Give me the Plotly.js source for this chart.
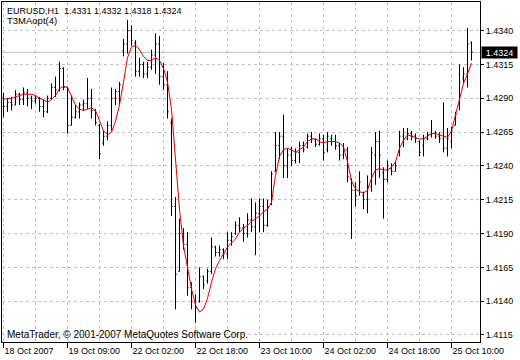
<!DOCTYPE html>
<html>
<head>
<meta charset="utf-8">
<script src="https://cdn.plot.ly/plotly-3.0.1.min.js"></script>
<style>html,body{margin:0;padding:0;background:#fff;}#chart{width:520px;height:360px;}</style>
</head>
<body>
<div id="chart"></div>
<script>
const symbol = "EURUSD,H1";
const indicatorName = "T3MAopt(4)";
const copyright = "MetaTrader, \u00a9 2001-2007 MetaQuotes Software Corp.";

const barIndex = Array.from({length: 118}, (_, i) => i);

const opens = [1.4290,1.4284,1.4287,1.4285,1.4293,1.4289,1.4294,1.4290,1.4288,1.4290,
 1.4284,1.4280,1.4290,1.4298,1.4296,1.4312,1.4298,1.4270,1.4276,1.4280,
 1.4285,1.4286,1.4290,1.4281,1.4270,1.4257,1.4262,1.4270,1.4290,1.4295,
 1.4325,1.4330,1.4340,1.4331,1.4310,1.4315,1.4308,1.4313,1.4322,1.4330,
 1.4306,1.4300,1.4272,1.4210,1.4162,1.4190,1.4182,1.4150,1.4140,1.4140,
 1.4158,1.4155,1.4162,1.4180,1.4176,1.4178,1.4175,1.4185,1.4190,1.4196,
 1.4194,1.4190,1.4200,1.4195,1.4205,1.4210,1.4196,1.4212,1.4236,1.4255,
 1.4262,1.4240,1.4248,1.4244,1.4250,1.4255,1.4254,1.4262,1.4260,1.4256,
 1.4260,1.4252,1.4260,1.4258,1.4255,1.4248,1.4252,1.4230,1.4222,1.4222,
 1.4218,1.4215,1.4225,1.4248,1.4258,1.4235,1.4230,1.4238,1.4236,1.4250,
 1.4262,1.4260,1.4264,1.4262,1.4258,1.4255,1.4260,1.4263,1.4264,1.4262,
 1.4260,1.4253,1.4258,1.4270,1.4285,1.4305,1.4308,1.4331];

const highs = [1.4294,1.4290,1.4291,1.4296,1.4294,1.4298,1.4297,1.4292,1.4292,1.4291,
 1.4289,1.4292,1.4301,1.4306,1.4317,1.4313,1.4298,1.4292,1.4285,1.4287,
 1.4289,1.4305,1.4297,1.4282,1.4271,1.4266,1.4273,1.4298,1.4297,1.4302,
 1.4334,1.4348,1.4344,1.4333,1.4320,1.4317,1.4317,1.4326,1.4338,1.4336,
 1.4316,1.4310,1.4275,1.4217,1.4201,1.4194,1.4191,1.4154,1.4145,1.4165,
 1.4159,1.4164,1.4187,1.4181,1.4181,1.4179,1.4191,1.4191,1.4199,1.4202,
 1.4197,1.4205,1.4216,1.4213,1.4216,1.4216,1.4215,1.4236,1.4265,1.4265,
 1.4278,1.4253,1.4254,1.4253,1.4258,1.4258,1.4264,1.4265,1.4260,1.4264,
 1.4263,1.4265,1.4263,1.4263,1.4257,1.4257,1.4254,1.4231,1.4228,1.4236,
 1.4221,1.4233,1.4254,1.4265,1.4266,1.4239,1.4244,1.4242,1.4243,1.4266,
 1.4268,1.4268,1.4266,1.4264,1.4259,1.4263,1.4265,1.4274,1.4266,1.4265,
 1.4287,1.4268,1.4269,1.4280,1.4315,1.4313,1.4342,1.4332];

const lows = [1.4276,1.4280,1.4281,1.4285,1.4285,1.4285,1.4284,1.4282,1.4286,1.4280,
 1.4276,1.4279,1.4289,1.4291,1.4295,1.4296,1.4264,1.4270,1.4275,1.4275,
 1.4281,1.4282,1.4275,1.4270,1.4245,1.4255,1.4259,1.4266,1.4285,1.4285,
 1.4321,1.4323,1.4329,1.4306,1.4306,1.4305,1.4305,1.4311,1.4308,1.4300,
 1.4296,1.4275,1.4203,1.4134,1.4162,1.4178,1.4144,1.4134,1.4124,1.4139,
 1.4149,1.4153,1.4160,1.4173,1.4173,1.4171,1.4171,1.4181,1.4189,1.4191,
 1.4184,1.4187,1.4191,1.4174,1.4191,1.4191,1.4195,1.4211,1.4236,1.4245,
 1.4231,1.4231,1.4240,1.4242,1.4242,1.4250,1.4253,1.4257,1.4254,1.4255,
 1.4244,1.4250,1.4255,1.4252,1.4244,1.4245,1.4228,1.4186,1.4210,1.4218,
 1.4208,1.4205,1.4221,1.4226,1.4231,1.4201,1.4228,1.4233,1.4236,1.4247,
 1.4254,1.4259,1.4259,1.4257,1.4247,1.4247,1.4259,1.4261,1.4260,1.4257,
 1.4250,1.4247,1.4253,1.4270,1.4281,1.4301,1.4298,1.4318];

const closes = [1.4284,1.4287,1.4285,1.4293,1.4289,1.4294,1.4290,1.4288,1.4290,1.4284,
 1.4280,1.4290,1.4298,1.4296,1.4312,1.4298,1.4270,1.4276,1.4280,1.4285,
 1.4286,1.4290,1.4281,1.4272,1.4249,1.4262,1.4270,1.4290,1.4295,1.4300,
 1.4330,1.4340,1.4333,1.4310,1.4315,1.4308,1.4313,1.4322,1.4330,1.4306,
 1.4300,1.4280,1.4210,1.4160,1.4190,1.4182,1.4150,1.4140,1.4135,1.4158,
 1.4152,1.4162,1.4180,1.4176,1.4178,1.4175,1.4185,1.4188,1.4196,1.4194,
 1.4190,1.4200,1.4195,1.4205,1.4210,1.4196,1.4210,1.4234,1.4255,1.4262,
 1.4240,1.4248,1.4244,1.4250,1.4255,1.4252,1.4262,1.4260,1.4256,1.4260,
 1.4250,1.4262,1.4258,1.4255,1.4248,1.4252,1.4232,1.4222,1.4218,1.4228,
 1.4215,1.4225,1.4250,1.4258,1.4248,1.4230,1.4240,1.4236,1.4240,1.4262,
 1.4260,1.4264,1.4262,1.4260,1.4250,1.4260,1.4263,1.4264,1.4262,1.4260,
 1.4253,1.4260,1.4266,1.4278,1.4302,1.4308,1.4330,1.4324];

const t3ma = [1.4289,1.4290,1.4290,1.4291,1.4292,1.4293,1.4293,1.4293,1.4292,1.4290,
 1.4289,1.4287,1.4289,1.4292,1.4297,1.4299,1.4298,1.4292,1.4285,1.4282,
 1.4281,1.4282,1.4283,1.4281,1.4274,1.4266,1.4263,1.4265,1.4273,1.4285,
 1.4302,1.4320,1.4328,1.4329,1.4326,1.4321,1.4318,1.4318,1.4320,1.4318,
 1.4312,1.4302,1.4282,1.4243,1.4208,1.4181,1.4164,1.4149,1.4137,1.4132,
 1.4134,1.4142,1.4154,1.4164,1.4170,1.4175,1.4180,1.4183,1.4186,1.4191,
 1.4194,1.4196,1.4199,1.4201,1.4203,1.4206,1.4208,1.4213,1.4233,1.4247,
 1.4252,1.4253,1.4252,1.4250,1.4252,1.4254,1.4258,1.4260,1.4260,1.4258,
 1.4257,1.4258,1.4258,1.4258,1.4257,1.4254,1.4243,1.4229,1.4223,1.4221,
 1.4220,1.4222,1.4231,1.4237,1.4238,1.4237,1.4237,1.4239,1.4243,1.4253,
 1.4259,1.4263,1.4262,1.4261,1.4260,1.4260,1.4262,1.4264,1.4264,1.4263,
 1.4262,1.4261,1.4266,1.4278,1.4290,1.4301,1.4308,1.4316];

const xTickVals = [0, 16, 32, 48, 64, 80, 96, 112];
const xTickText = ["18 Oct 2007", "19 Oct 09:00", "22 Oct 02:00", "22 Oct 18:00",
                   "23 Oct 10:00", "24 Oct 02:00", "24 Oct 18:00", "25 Oct 10:00"];
const xMinorGrid = [8, 24, 40, 56, 72, 88, 104];

const last = closes.length - 1;
const lastClose = closes[last];
const fmt = v => v.toFixed(4);
const headerText = symbol + "\u00a0\u00a0" + [opens[last], highs[last], lows[last], closes[last]].map(fmt).join("\u00a0");

const FONT = "Liberation Sans, Arial, sans-serif";
const GRID = "#c0c0c0";

const traces = [
  {
    type: "ohlc",
    x: barIndex, open: opens, high: highs, low: lows, close: closes,
    increasing: {line: {color: "#000", width: 1}},
    decreasing: {line: {color: "#000", width: 1}},
    tickwidth: 0.3,
    hoverinfo: "skip"
  },
  {
    type: "scatter", mode: "lines",
    x: barIndex, y: t3ma,
    line: {color: "#e00000", width: 1},
    hoverinfo: "skip"
  }
];

const layout = {
  width: 520, height: 360,
  margin: {l: 2, r: 40, t: 2, b: 18, pad: 0},
  paper_bgcolor: "#fff", plot_bgcolor: "#fff",
  showlegend: false,
  font: {family: FONT, size: 9, color: "#000"},
  xaxis: {
    range: [-0.375, 119.125],
    tickmode: "array", tickvals: xTickVals, ticktext: xTickText,
    ticks: "outside", ticklen: 5, tickcolor: "#000", tickwidth: 1,
    ticklabelposition: "outside right",
    tickfont: {family: FONT, size: 9, color: "#000"},
    showline: true, mirror: true, linecolor: "#000", linewidth: 1,
    showgrid: true, gridcolor: GRID, griddash: "3px,3px", gridwidth: 1,
    minor: {tickvals: xMinorGrid, showgrid: true, gridcolor: GRID, griddash: "3px,3px", gridwidth: 1, ticks: ""},
    zeroline: false,
    rangeslider: {visible: false},
    fixedrange: true
  },
  yaxis: {
    side: "right",
    range: [1.41098, 1.43612],
    tickmode: "linear", tick0: 1.4115, dtick: 0.0025, tickformat: ".4f",
    ticks: "outside", ticklen: 3, tickcolor: "#000",
    tickfont: {family: FONT, size: 9, color: "#000"},
    showline: true, mirror: true, linecolor: "#000", linewidth: 1,
    showgrid: true, gridcolor: GRID, griddash: "3px,3px", gridwidth: 1,
    zeroline: false,
    fixedrange: true
  },
  shapes: [
    {type: "line", xref: "paper", x0: 0, x1: 1, yref: "y", y0: lastClose, y1: lastClose,
     line: {color: GRID, width: 1}, layer: "below"}
  ],
  annotations: [
    {xref: "paper", yref: "paper", x: 0.0063, y: 0.9941, xanchor: "left", yanchor: "top",
     text: headerText, showarrow: false, font: {family: FONT, size: 9, color: "#000"}},
    {xref: "paper", yref: "paper", x: 0.0063, y: 0.9676, xanchor: "left", yanchor: "top",
     text: indicatorName, showarrow: false, font: {family: FONT, size: 9.5, color: "#000"}},
    {xref: "paper", yref: "paper", x: 0.0063, y: 0.0440, xanchor: "left", yanchor: "top",
     text: copyright, showarrow: false, font: {family: FONT, size: 10, color: "#000"}},
    {xref: "paper", yref: "y", x: 1, y: lastClose, xanchor: "left", yanchor: "middle", xshift: 1,
     text: fmt(lastClose), showarrow: false, bgcolor: "#000", borderpad: 1,
     width: 33, height: 9,
     font: {family: FONT, size: 9, color: "#fff"}}
  ]
};

Plotly.newPlot("chart", traces, layout, {staticPlot: true, displayModeBar: false});
</script>
</body>
</html>
